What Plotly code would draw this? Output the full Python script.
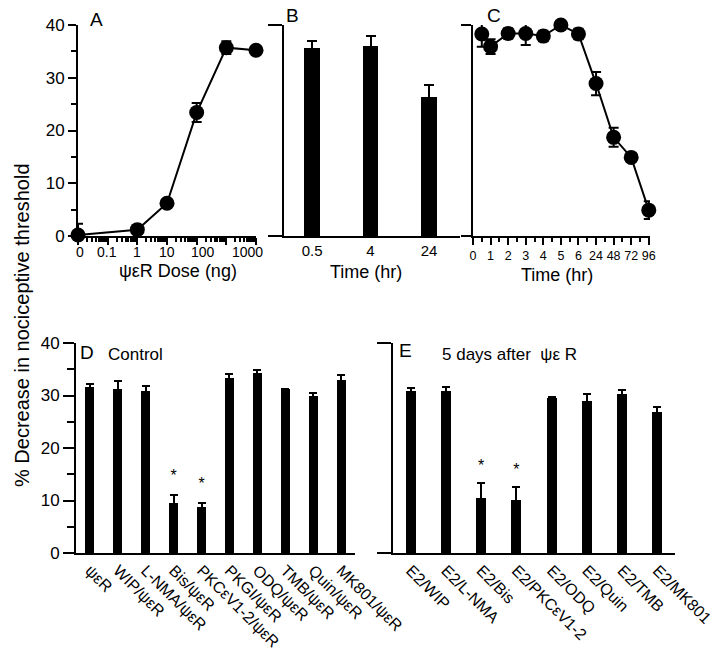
import numpy as np
import plotly.graph_objects as go

# ---------------- data ----------------
# Panel A: dose-response
dose_ng = [0, 1, 10, 100, 1000, 10000]
dose_resp = [0.2, 1.2, 6.2, 23.4, 35.7, 35.2]
dose_err = [2.1, 0.5, 0.8, 1.8, 1.2, 0.8]
dose_tick_labels = ["0", "0.1", "1", "10", "100", "1000"]
# the printed dose labels sit as a typed row under the axis (log10 units)
dose_label_pos = [-1.93, -1.02, 0.0, 1.0, 2.22, 3.7]

# Panel B: onset time bars
b_time = ["0.5", "4", "24"]
b_val = [35.6, 36.0, 26.3]
b_err = [1.3, 1.9, 2.3]

# Panel C: time course
c_time_hr = [0.5, 1, 2, 3, 4, 5, 6, 24, 48, 72, 96]
c_val = [38.3, 35.9, 38.4, 38.4, 37.9, 40.0, 38.3, 28.9, 18.7, 14.9, 4.9]
c_err = [2.4, 1.4, 1.0, 2.2, 1.0, 0.5, 1.0, 2.2, 1.8, 0.8, 1.7]
c_tick_labels = ["0", "1", "2", "3", "4", "5", "6", "24", "48", "72", "96"]

# Panel D: control
d_cat = ["ψεR", "WIP/ψεR", "L-NMA/ψεR", "Bis/ψεR", "PKCεV1-2/ψεR",
         "PKGI/ψεR", "ODQ/ψεR", "TMB/ψεR", "Quin/ψεR", "MK801/ψεR"]
d_val = [31.6, 31.2, 30.9, 9.5, 8.8, 33.3, 34.3, 31.2, 29.9, 33.0]
d_err = [0.5, 1.6, 0.9, 1.5, 0.8, 0.8, 0.5, 0.0, 0.6, 0.9]
d_sig = [False, False, False, True, True, False, False, False, False, False]

# Panel E: 5 days after psi-eps-R
e_cat = ["E2/WIP", "E2/L-NMA", "E2/Bis", "E2/PKCεV1-2", "E2/ODQ",
         "E2/Quin", "E2/TMB", "E2/MK801"]
e_val = [30.8, 30.8, 10.4, 10.1, 29.6, 28.9, 30.2, 26.9]
e_err = [0.6, 0.9, 2.9, 2.5, 0.2, 1.3, 0.9, 0.9]
e_sig = [False, False, True, True, False, False, False, False]

# ---------------- helpers ----------------
W, H = 720, 650
FONT = "Liberation Sans, Arial, Helvetica, sans-serif"


def fx(px):
    return px / W


def fy(py):
    return 1 - py / H


def dose_pos(d):
    return np.log10(d) if d > 0 else -2.0


def time_pos(t):
    return t if t <= 6 else 6 + t / 24.0


BLACK = "black"
fig = go.Figure()

# Panel A
fig.add_trace(go.Scatter(
    x=[dose_pos(d) for d in dose_ng], y=dose_resp, mode="lines+markers",
    line=dict(color=BLACK, width=2), marker=dict(color=BLACK, size=15),
    error_y=dict(type="data", array=dose_err, color=BLACK, thickness=2, width=5),
    cliponaxis=False, xaxis="x", yaxis="y", showlegend=False))

# Panel B
fig.add_trace(go.Bar(
    x=b_time, y=b_val, marker=dict(color=BLACK, line=dict(width=0)), width=0.27,
    error_y=dict(type="data", array=b_err, color=BLACK, thickness=2, width=5),
    xaxis="x2", yaxis="y2", showlegend=False))

# Panel C
fig.add_trace(go.Scatter(
    x=[time_pos(t) for t in c_time_hr], y=c_val, mode="lines+markers",
    line=dict(color=BLACK, width=2), marker=dict(color=BLACK, size=15),
    error_y=dict(type="data", array=c_err, color=BLACK, thickness=2, width=5),
    cliponaxis=False, xaxis="x3", yaxis="y3", showlegend=False))

# Panel D
fig.add_trace(go.Bar(
    x=d_cat, y=d_val, marker=dict(color=BLACK, line=dict(width=0)), width=0.32,
    error_y=dict(type="data", array=d_err, color=BLACK, thickness=2, width=4),
    xaxis="x4", yaxis="y4", showlegend=False))
fig.add_trace(go.Scatter(
    x=[c for c, s in zip(d_cat, d_sig) if s],
    y=[v + e + 3.4 for v, e, s in zip(d_val, d_err, d_sig) if s],
    mode="text", text=["*"] * sum(d_sig), textfont=dict(size=16, color=BLACK, family=FONT),
    cliponaxis=False, xaxis="x4", yaxis="y4", showlegend=False))

# Panel E
fig.add_trace(go.Bar(
    x=e_cat, y=e_val, marker=dict(color=BLACK, line=dict(width=0)), width=0.29,
    error_y=dict(type="data", array=e_err, color=BLACK, thickness=2, width=4),
    xaxis="x5", yaxis="y5", showlegend=False))
fig.add_trace(go.Scatter(
    x=[c for c, s in zip(e_cat, e_sig) if s],
    y=[v + e + 3.0 for v, e, s in zip(e_val, e_err, e_sig) if s],
    mode="text", text=["*"] * sum(e_sig), textfont=dict(size=16, color=BLACK, family=FONT),
    cliponaxis=False, xaxis="x5", yaxis="y5", showlegend=False))

top_dom = [fy(236), fy(25)]
bot_dom = [fy(553), fy(343)]
axcommon = dict(showline=True, linecolor=BLACK, linewidth=2, tickcolor=BLACK,
                tickwidth=2, showgrid=False, zeroline=False, automargin=False,
                tickfont=dict(family=FONT, size=15, color=BLACK))

minorA = []
for dec in range(-2, 4):
    for k in range(2, 10):
        minorA.append(np.log10(k) + dec)

A_dom = [fx(78), fx(256)]
fig.update_layout(
    width=W, height=H, margin=dict(l=0, r=0, t=0, b=0, pad=0),
    paper_bgcolor="white", plot_bgcolor="rgba(0,0,0,0)",
    font=dict(family=FONT, color=BLACK),
    bargap=0.0, hovermode=False,
    xaxis=dict(**axcommon,
               domain=A_dom, range=[-2, 4.0], anchor="y",
               tickmode="array", tickvals=list(range(-2, 5)),
               ticktext=[""] * 7, ticks="outside", ticklen=7,
               minor=dict(tickmode="array", tickvals=minorA, ticks="outside", ticklen=4,
                          tickwidth=1.5, tickcolor=BLACK)),
    yaxis=dict(**{**axcommon, "tickfont": dict(family=FONT, size=17, color=BLACK)},
               domain=top_dom, range=[0, 40], anchor="x",
               tickmode="array", tickvals=[0, 10, 20, 30, 40], ticks="outside", ticklen=8,
               minor=dict(tickmode="array", tickvals=[5, 15, 25, 35], ticks="outside",
                          ticklen=5, tickwidth=2, tickcolor=BLACK)),
    xaxis2=dict(**{**axcommon, "tickfont": dict(family=FONT, size=15, color=BLACK)},
                domain=[fx(284), fx(460)], type="category", range=[-0.48, 2.53],
                anchor="y2", ticks="", tickangle=0),
    yaxis2=dict(**axcommon, domain=top_dom, range=[0, 40], anchor="x2",
                tickmode="array", tickvals=[0, 40], ticktext=["", ""],
                ticks="outside", ticklen=14),
    xaxis3=dict(**{**axcommon, "tickfont": dict(family=FONT, size=12.5, color=BLACK)},
                domain=[fx(473), fx(650)], range=[0, 10.07], anchor="y3",
                tickmode="array", tickvals=list(range(11)), ticktext=c_tick_labels,
                ticks="outside", ticklen=7, tickangle=0,
                minor=dict(tickmode="array", tickvals=[i + 0.5 for i in range(10)],
                           ticks="outside", ticklen=4, tickwidth=2, tickcolor=BLACK)),
    yaxis3=dict(**axcommon, domain=top_dom, range=[0, 40], anchor="x3",
                tickmode="array", tickvals=[0, 40], ticktext=["", ""],
                ticks="outside", ticklen=10),
    xaxis4=dict(**{**axcommon, "tickfont": dict(family=FONT, size=16, color=BLACK)},
                domain=[fx(76), fx(355)], type="category", range=[-0.5, 9.5],
                anchor="y4", ticks="", tickangle=45),
    yaxis4=dict(**{**axcommon, "tickfont": dict(family=FONT, size=17, color=BLACK)},
                domain=bot_dom, range=[0, 40], anchor="x4",
                tickmode="array", tickvals=[0, 10, 20, 30, 40], ticks="outside", ticklen=11,
                minor=dict(tickmode="array", tickvals=[5, 15, 25, 35], ticks="outside",
                           ticklen=7, tickwidth=2, tickcolor=BLACK)),
    xaxis5=dict(**{**axcommon, "tickfont": dict(family=FONT, size=16, color=BLACK)},
                domain=[fx(393), fx(675)], type="category", range=[-0.5, 7.5],
                anchor="y5", ticks="", tickangle=45),
    yaxis5=dict(**axcommon, domain=bot_dom, range=[0, 40], anchor="x5",
                tickmode="array", tickvals=[0, 40], ticktext=["", ""],
                ticks="outside", ticklen=14),
)

# dose labels of panel A (typed row under the axis)
for lab, pos in zip(dose_tick_labels, dose_label_pos):
    fig.add_annotation(text=lab, x=pos, xref="x", y=fy(252), yref="paper",
                       showarrow=False, xanchor="center", yanchor="middle",
                       font=dict(family=FONT, size=14, color=BLACK))

ann = [
    dict(text="A", x=fx(96), y=fy(19), size=19, xa="center"),
    dict(text="B", x=fx(292), y=fy(16), size=19, xa="center"),
    dict(text="C", x=fx(494), y=fy(15), size=19, xa="center"),
    dict(text="D", x=fx(87), y=fy(352), size=19, xa="center"),
    dict(text="E", x=fx(405), y=fy(350), size=19, xa="center"),
    dict(text="Control", x=fx(106), y=fy(355), size=17, xa="left"),
    dict(text="5 days after  ψε R", x=fx(440), y=fy(355), size=17, xa="left"),
    dict(text="ψεR Dose (ng)", x=fx(178), y=fy(271), size=18, xa="center"),
    dict(text="Time (hr)", x=fx(366), y=fy(272), size=18, xa="center"),
    dict(text="Time (hr)", x=fx(557), y=fy(275), size=18, xa="center"),
]
for a in ann:
    fig.add_annotation(text=a["text"], x=a["x"], y=a["y"], xref="paper", yref="paper",
                       showarrow=False, xanchor=a["xa"], yanchor="middle",
                       font=dict(family=FONT, size=a["size"], color=BLACK))
fig.add_annotation(text="% Decrease in nociceptive threshold", x=fx(22), y=fy(325),
                   xref="paper", yref="paper", showarrow=False, textangle=-90,
                   xanchor="center", yanchor="middle",
                   font=dict(family=FONT, size=20, color=BLACK))

fig.write_html("out.html", config={"displayModeBar": False},
               post_script="document.body.style.margin='0';"
                           "document.body.style.overflow='hidden';")
